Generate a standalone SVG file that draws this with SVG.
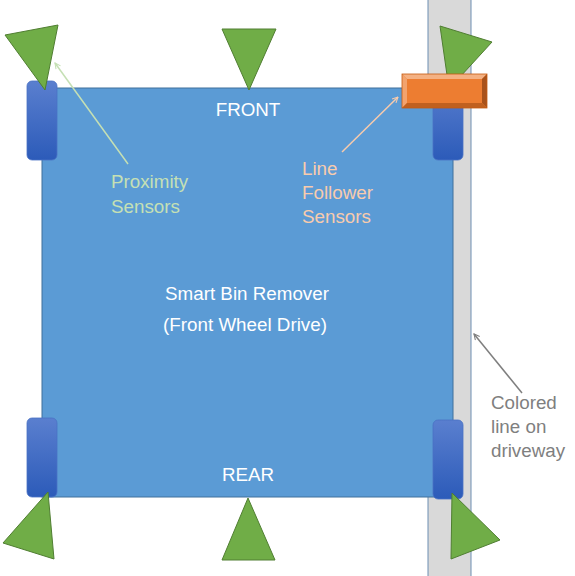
<svg xmlns="http://www.w3.org/2000/svg" width="575" height="576" viewBox="0 0 575 576">
<defs>
<linearGradient id="wg" x1="0" y1="0" x2="0" y2="1">
<stop offset="0" stop-color="#5a7fcf"/>
<stop offset="1" stop-color="#2c5bb9"/>
</linearGradient>
<marker id="ag" viewBox="0 0 10 10" refX="9" refY="5" markerWidth="7" markerHeight="7" orient="auto" markerUnits="userSpaceOnUse">
<path d="M1,1 L9,5 L1,9" fill="none" stroke="#c5e0b4" stroke-width="1.5"/>
</marker>
<marker id="ao" viewBox="0 0 10 10" refX="9" refY="5" markerWidth="7" markerHeight="7" orient="auto" markerUnits="userSpaceOnUse">
<path d="M1,1 L9,5 L1,9" fill="none" stroke="#f8cbad" stroke-width="1.5"/>
</marker>
<marker id="ay" viewBox="0 0 10 10" refX="9" refY="5" markerWidth="7" markerHeight="7" orient="auto" markerUnits="userSpaceOnUse">
<path d="M1,1 L9,5 L1,9" fill="none" stroke="#7f7f7f" stroke-width="1.5"/>
</marker>
</defs>
<style>
.wheel{fill:url(#wg);stroke:#4a72c4;stroke-width:0.8}
.tri{fill:#70ad47;stroke:#507e32;stroke-width:1}
.t{font-family:"Liberation Sans",Arial,sans-serif;font-size:18.8px}
.w{fill:#ffffff}
</style>
<g id="stripe"><rect x="428" y="-2" width="43" height="580" fill="#d9d9d9" stroke="#6f8fb3" stroke-width="1"/></g>
<g id="bin">
<rect x="42" y="88" width="411" height="409" fill="#5b9bd5" stroke="#41719c" stroke-width="1"/>
<text class="t w" x="248" y="116" text-anchor="middle">FRONT</text>
<text class="t w" x="248" y="481" text-anchor="middle">REAR</text>
<text class="t w" x="247" y="300" text-anchor="middle">Smart Bin Remover</text>
<text class="t w" x="245" y="331" text-anchor="middle">(Front Wheel Drive)</text>
</g>
<g id="wheels">
<rect id="wheel-fl" class="wheel" x="27" y="81" width="30" height="79" rx="5"/>
<rect id="wheel-rl" class="wheel" x="27" y="418" width="30" height="79" rx="5"/>
<rect id="wheel-fr" class="wheel" x="433" y="81" width="30" height="79" rx="5"/>
<rect id="wheel-rr" class="wheel" x="433" y="420" width="30" height="79" rx="5"/>
</g>
<g id="sensors">
<polygon id="s-tl" class="tri" points="5,35 58,25 45,90"/>
<polygon id="s-tc" class="tri" points="222,29 276,29 249,90"/>
<polygon id="s-tr" class="tri" points="440,26 492,42 449,89"/>
<polygon id="s-bl" class="tri" points="3,543 48,492 54,559"/>
<polygon id="s-bc" class="tri" points="248,498 222,560 275,560"/>
<polygon id="s-br" class="tri" points="452,493 500,540 451,559"/>
</g>
<g id="line-follower">
<rect x="402" y="74" width="85" height="34" fill="#ed7d31"/>
<polygon points="402,74 487,74 482,79 407,79" fill="#f4b183"/>
<polygon points="402,74 407,79 407,103 402,108" fill="#f2a36e"/>
<polygon points="487,74 487,108 482,103 482,79" fill="#a9521b"/>
<polygon points="402,108 407,103 482,103 487,108" fill="#c0601f"/>
<rect x="402" y="74" width="85" height="34" fill="none" stroke="#c55a11" stroke-width="0.8"/>
</g>
<g id="connectors">
<line x1="128" y1="164" x2="55" y2="63" stroke="#c5e0b4" stroke-width="1.5" marker-end="url(#ag)"/>
<line x1="342" y1="152" x2="398" y2="97" stroke="#f8cbad" stroke-width="1.5" marker-end="url(#ao)"/>
<line x1="522" y1="393" x2="474" y2="334" stroke="#7f7f7f" stroke-width="1.5" marker-end="url(#ay)"/>
</g>
<g id="labels">
<text class="t" fill="#c5e0b4" x="111" y="188">Proximity</text>
<text class="t" fill="#c5e0b4" x="111" y="213">Sensors</text>
<text class="t" fill="#f8cbad" x="302" y="175">Line</text>
<text class="t" fill="#f8cbad" x="302" y="199">Follower</text>
<text class="t" fill="#f8cbad" x="302" y="223">Sensors</text>
<text class="t" fill="#7f7f7f" x="491" y="409">Colored</text>
<text class="t" fill="#7f7f7f" x="491" y="433">line on</text>
<text class="t" fill="#7f7f7f" x="491" y="457">driveway</text>
</g>
</svg>
